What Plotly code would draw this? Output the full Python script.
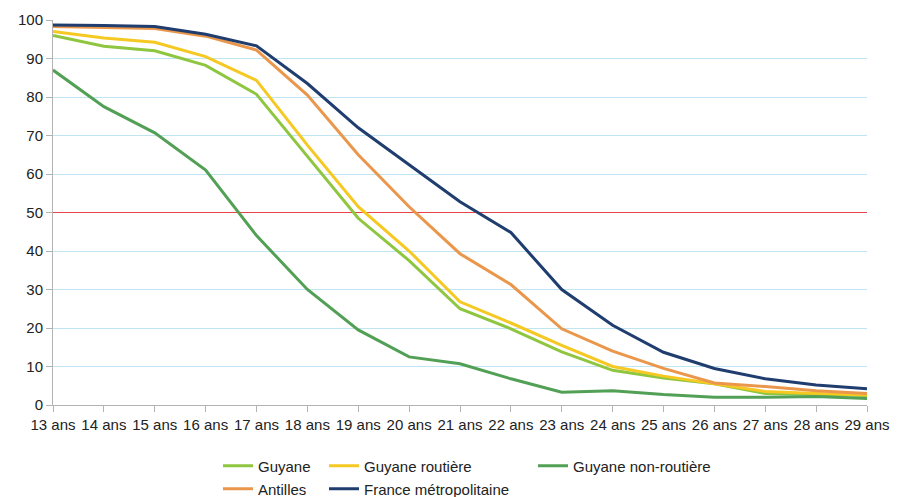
import plotly.graph_objects as go

ages = list(range(13, 30))
age_labels = [f"{a} ans" for a in ages]

guyane = [96, 93.2, 92, 88.2, 80.7, 64.5, 48.5, 37.5, 25, 19.8, 13.8, 9, 7, 5.5, 3, 2.8, 2.5]
guyane_routiere = [97, 95.3, 94.2, 90.5, 84.3, 67.5, 51.5, 40, 26.8, 21.3, 15.5, 10, 7.5, 5.5, 3.5, 3, 2.6]
guyane_non_routiere = [87, 77.5, 70.7, 61, 44, 30, 19.5, 12.5, 10.7, 6.8, 3.3, 3.7, 2.7, 2, 2, 2.2, 1.7]
antilles = [98.3, 98, 97.8, 95.8, 92.2, 80.5, 65, 51.5, 39.3, 31.3, 19.8, 14, 9.5, 5.7, 4.8, 3.7, 3]
france = [98.7, 98.6, 98.3, 96.3, 93.3, 83.5, 72, 62.3, 52.8, 44.8, 30, 20.7, 13.7, 9.5, 6.8, 5.2, 4.2]

threshold = 50
y_ticks = list(range(0, 101, 10))

series = [
    ("Guyane", guyane, "#8fc640", "legend"),
    ("Guyane routière", guyane_routiere, "#f6c822", "legend2"),
    ("Guyane non-routière", guyane_non_routiere, "#52a055", "legend3"),
    ("Antilles", antilles, "#ea974c", "legend4"),
    ("France métropolitaine", france, "#1f3d6e", "legend5"),
]

fig = go.Figure()
# 50 % reference line
fig.add_trace(go.Scatter(x=[ages[0], ages[-1]], y=[threshold, threshold], mode="lines",
                         line=dict(color="#e8434a", width=1), showlegend=False,
                         hoverinfo="skip"))
for name, vals, color, leg in series:
    fig.add_trace(go.Scatter(x=ages, y=vals, name=name, mode="lines",
                             line=dict(color=color, width=3), legend=leg, showlegend=True))

font = dict(family="Liberation Sans, Arial, sans-serif", size=15, color="#222222")

W, H = 905, 497

def cx(p):
    return p / W

def cy(p):
    return 1 - p / H

leg_common = dict(bgcolor="rgba(0,0,0,0)", borderwidth=0, font=font,
                  xref="container", yref="container",
                  xanchor="left", yanchor="middle", orientation="h")

fig.update_layout(
    width=W, height=H,
    showlegend=True,
    margin=dict(l=53, r=38, t=20, b=92, autoexpand=False),
    paper_bgcolor="white", plot_bgcolor="white",
    font=font,
    xaxis=dict(range=[13, 29], tickmode="array", tickvals=ages, ticktext=age_labels,
               showgrid=False, zeroline=False, showline=True, linecolor="#b3b3b3", linewidth=1,
               ticks="outside", ticklen=6, tickcolor="#b3b3b3", tickfont=font),
    yaxis=dict(range=[0, 100], tickmode="array", tickvals=y_ticks,
               showgrid=True, gridcolor="#bfe4f2", gridwidth=1, zeroline=False,
               showline=True, linecolor="#b3b3b3", linewidth=1,
               ticks="outside", ticklen=6, tickcolor="#b3b3b3", tickfont=font),
    legend=dict(x=cx(218), y=cy(466), **leg_common),
    legend2=dict(x=cx(324), y=cy(466), **leg_common),
    legend3=dict(x=cx(533), y=cy(466), **leg_common),
    legend4=dict(x=cx(218), y=cy(489), **leg_common),
    legend5=dict(x=cx(324), y=cy(489), **leg_common),
)

fig.write_html("out.html", post_script="document.body.style.margin='0';",
               config={"displayModeBar": False})
